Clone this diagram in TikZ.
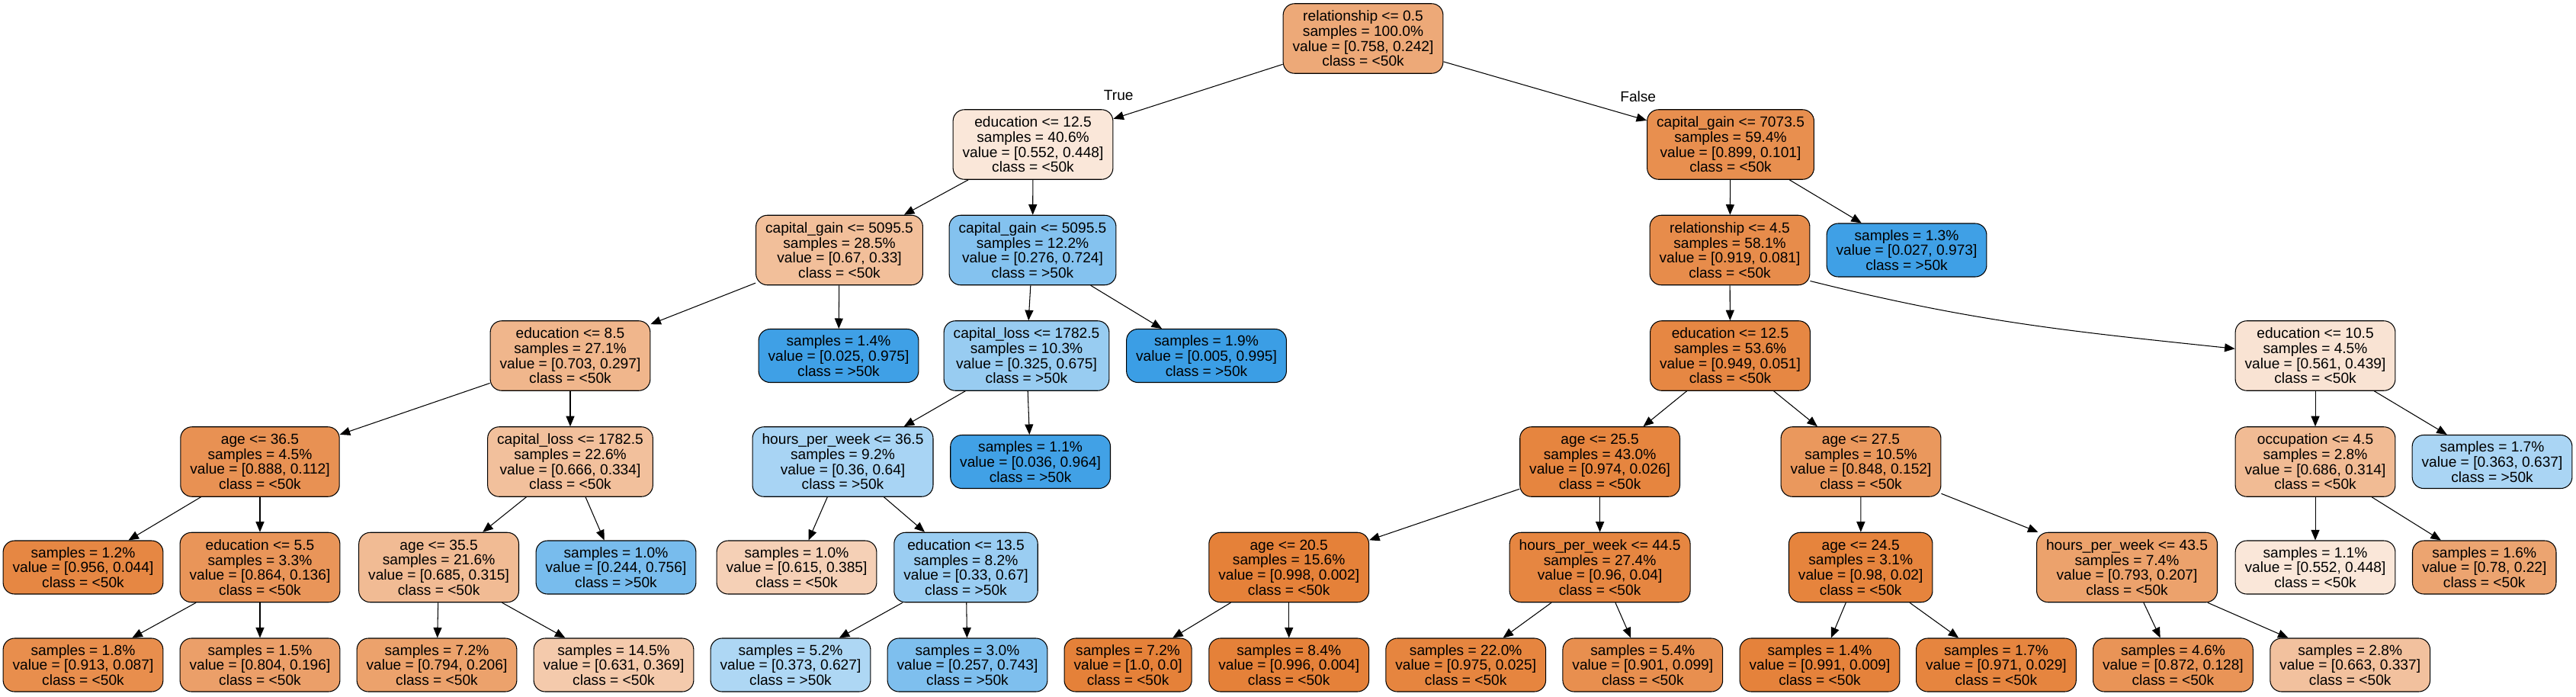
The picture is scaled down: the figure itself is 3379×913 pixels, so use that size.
\documentclass[tikz,border=0pt]{standalone}
\usepackage{fontspec}
\setmainfont{Liberation Sans}
\usepackage{tikz}
\usetikzlibrary{arrows.meta,positioning}
\definecolor{low}{RGB}{229,129,57}
\definecolor{high}{RGB}{57,157,229}

\begin{document}
\begin{tikzpicture}[x=0.2mm,y=-0.2mm,>={Triangle[length=2.7mm,width=2.2mm]},line width=0.6pt,
      font=\fontsize{10.9}{11.2}\selectfont,
      split node/.style={rectangle,rounded corners=3mm,draw,align=center,inner xsep=2.5mm,inner ysep=1pt,minimum height=18.3mm},
      leaf node/.style={split node,minimum height=14mm}]
      \useasboundingbox (0,0) rectangle (3379,913);

      % depth 0-2
      \node[split node,fill=low!68] (n0) at (1788,50.5) {relationship <= 0.5\\samples = 100.0\%\\value = [0.758, 0.242]\\class = <50k};
      \node[split node,fill=low!19] (n1) at (1355,189.5) {education <= 12.5\\samples = 40.6\%\\value = [0.552, 0.448]\\class = <50k};
      \node[split node,fill=low!89] (n2) at (2270,189.5) {capital\_gain <= 7073.5\\samples = 59.4\%\\value = [0.899, 0.101]\\class = <50k};
      \node[split node,fill=low!51] (n3) at (1101,328) {capital\_gain <= 5095.5\\samples = 28.5\%\\value = [0.67, 0.33]\\class = <50k};
      \node[split node,fill=high!62] (n4) at (1354.5,328) {capital\_gain <= 5095.5\\samples = 12.2\%\\value = [0.276, 0.724]\\class = >50k};
      \node[split node,fill=low!91] (n5) at (2269,328) {relationship <= 4.5\\samples = 58.1\%\\value = [0.919, 0.081]\\class = <50k};
      \node[leaf node,fill=high!97] (n6) at (2501,328) {samples = 1.3\%\\value = [0.027, 0.973]\\class = >50k};

      % depth 3
      \node[split node,fill=low!58] (n7) at (748,466.5) {education <= 8.5\\samples = 27.1\%\\value = [0.703, 0.297]\\class = <50k};
      \node[leaf node,fill=high!97] (n8) at (1100,466.5) {samples = 1.4\%\\value = [0.025, 0.975]\\class = >50k};
      \node[split node,fill=high!52] (n9) at (1346.5,466.5) {capital\_loss <= 1782.5\\samples = 10.3\%\\value = [0.325, 0.675]\\class = >50k};
      \node[leaf node,fill=high!99] (n10) at (1582.5,466.5) {samples = 1.9\%\\value = [0.005, 0.995]\\class = >50k};
      \node[split node,fill=low!95] (n11) at (2269.5,466.5) {education <= 12.5\\samples = 53.6\%\\value = [0.949, 0.051]\\class = <50k};
      \node[split node,fill=low!22] (n12) at (3037,466.5) {education <= 10.5\\samples = 4.5\%\\value = [0.561, 0.439]\\class = <50k};

      % depth 4
      \node[split node,fill=low!87] (n13) at (341,605.5) {age <= 36.5\\samples = 4.5\%\\value = [0.888, 0.112]\\class = <50k};
      \node[split node,fill=low!50] (n14) at (748,605.5) {capital\_loss <= 1782.5\\samples = 22.6\%\\value = [0.666, 0.334]\\class = <50k};
      \node[split node,fill=high!44] (n15) at (1105.5,605.5) {hours\_per\_week <= 36.5\\samples = 9.2\%\\value = [0.36, 0.64]\\class = >50k};
      \node[leaf node,fill=high!96] (n16) at (1351.6,605.5) {samples = 1.1\%\\value = [0.036, 0.964]\\class = >50k};
      \node[split node,fill=low!97] (n17) at (2098.6,605.5) {age <= 25.5\\samples = 43.0\%\\value = [0.974, 0.026]\\class = <50k};
      \node[split node,fill=low!82] (n18) at (2441,605.5) {age <= 27.5\\samples = 10.5\%\\value = [0.848, 0.152]\\class = <50k};
      \node[split node,fill=low!54] (n19) at (3037,605.5) {occupation <= 4.5\\samples = 2.8\%\\value = [0.686, 0.314]\\class = <50k};
      \node[leaf node,fill=high!43] (n20) at (3269,605.5) {samples = 1.7\%\\value = [0.363, 0.637]\\class = >50k};

      % depth 5
      \node[leaf node,fill=low!95] (n21) at (109,744) {samples = 1.2\%\\value = [0.956, 0.044]\\class = <50k};
      \node[split node,fill=low!84] (n22) at (341,744) {education <= 5.5\\samples = 3.3\%\\value = [0.864, 0.136]\\class = <50k};
      \node[split node,fill=low!54] (n23) at (575.6,744) {age <= 35.5\\samples = 21.6\%\\value = [0.685, 0.315]\\class = <50k};
      \node[leaf node,fill=high!68] (n24) at (808,744) {samples = 1.0\%\\value = [0.244, 0.756]\\class = >50k};
      \node[leaf node,fill=low!37] (n25) at (1045,744) {samples = 1.0\%\\value = [0.615, 0.385]\\class = <50k};
      \node[split node,fill=high!51] (n26) at (1267,744) {education <= 13.5\\samples = 8.2\%\\value = [0.33, 0.67]\\class = >50k};
      \node[split node,fill=low] (n27) at (1690.7,744) {age <= 20.5\\samples = 15.6\%\\value = [0.998, 0.002]\\class = <50k};
      \node[split node,fill=low!96] (n28) at (2098.6,744) {hours\_per\_week <= 44.5\\samples = 27.4\%\\value = [0.96, 0.04]\\class = <50k};
      \node[split node,fill=low!98] (n29) at (2440.7,744) {age <= 24.5\\samples = 3.1\%\\value = [0.98, 0.02]\\class = <50k};
      \node[split node,fill=low!74] (n30) at (2790,744) {hours\_per\_week <= 43.5\\samples = 7.4\%\\value = [0.793, 0.207]\\class = <50k};
      \node[leaf node,fill=low!19] (n31) at (3037,744) {samples = 1.1\%\\value = [0.552, 0.448]\\class = <50k};
      \node[leaf node,fill=low!72] (n32) at (3258.7,744) {samples = 1.6\%\\value = [0.78, 0.22]\\class = <50k};

      % depth 6
      \node[leaf node,fill=low!90] (n33) at (109,872) {samples = 1.8\%\\value = [0.913, 0.087]\\class = <50k};
      \node[leaf node,fill=low!76] (n34) at (341,872) {samples = 1.5\%\\value = [0.804, 0.196]\\class = <50k};
      \node[leaf node,fill=low!74] (n35) at (573,872) {samples = 7.2\%\\value = [0.794, 0.206]\\class = <50k};
      \node[leaf node,fill=low!42] (n36) at (805,872) {samples = 14.5\%\\value = [0.631, 0.369]\\class = <50k};
      \node[leaf node,fill=high!41] (n37) at (1037,872) {samples = 5.2\%\\value = [0.373, 0.627]\\class = >50k};
      \node[leaf node,fill=high!65] (n38) at (1269,872) {samples = 3.0\%\\value = [0.257, 0.743]\\class = >50k};
      \node[leaf node,fill=low] (n39) at (1479.6,872) {samples = 7.2\%\\value = [1.0, 0.0]\\class = <50k};
      \node[leaf node,fill=low] (n40) at (1690.7,872) {samples = 8.4\%\\value = [0.996, 0.004]\\class = <50k};
      \node[leaf node,fill=low!97] (n41) at (1922.7,872) {samples = 22.0\%\\value = [0.975, 0.025]\\class = <50k};
      \node[leaf node,fill=low!89] (n42) at (2154.8,872) {samples = 5.4\%\\value = [0.901, 0.099]\\class = <50k};
      \node[leaf node,fill=low!99] (n43) at (2387,872) {samples = 1.4\%\\value = [0.991, 0.009]\\class = <50k};
      \node[leaf node,fill=low!97] (n44) at (2618.4,872) {samples = 1.7\%\\value = [0.971, 0.029]\\class = <50k};
      \node[leaf node,fill=low!85] (n45) at (2850.4,872) {samples = 4.6\%\\value = [0.872, 0.128]\\class = <50k};
      \node[leaf node,fill=low!49] (n46) at (3082.7,872) {samples = 2.8\%\\value = [0.663, 0.337]\\class = <50k};

      \path[->]
        (n0) edge node[pos=0.57,left=12.6mm] {True} (n1)
        (n0) edge node[pos=0.6,right=13.1mm] {False} (n2)
        (n1) edge (n3)
        (n1) edge (n4)
        (n2) edge (n5)
        (n2) edge (n6)
        (n3) edge (n7)
        (n3) edge (n8)
        (n4) edge (n9)
        (n4) edge (n10)
        (n5) edge (n11)
        (n5.-21.5) edge [out=-14,in=174] (n12.175)
        (n7) edge (n13)
        (n7) edge (n14)
        (n9) edge (n15)
        (n9) edge (n16)
        (n11) edge (n17)
        (n11) edge (n18)
        (n12) edge (n19)
        (n12) edge (n20)
        (n13) edge (n21)
        (n13) edge (n22)
        (n14) edge (n23)
        (n14) edge (n24)
        (n15) edge (n25)
        (n15) edge (n26)
        (n17) edge (n27)
        (n17) edge (n28)
        (n18) edge (n29)
        (n18) edge (n30)
        (n19) edge (n31)
        (n19) edge (n32)
        (n22) edge (n33)
        (n22) edge (n34)
        (n23) edge (n35)
        (n23) edge (n36)
        (n26) edge (n37)
        (n26) edge (n38)
        (n27) edge (n39)
        (n27) edge (n40)
        (n28) edge (n41)
        (n28) edge (n42)
        (n29) edge (n43)
        (n29) edge (n44)
        (n30) edge (n45)
        (n30) edge (n46);
    \end{tikzpicture}
\end{document}
